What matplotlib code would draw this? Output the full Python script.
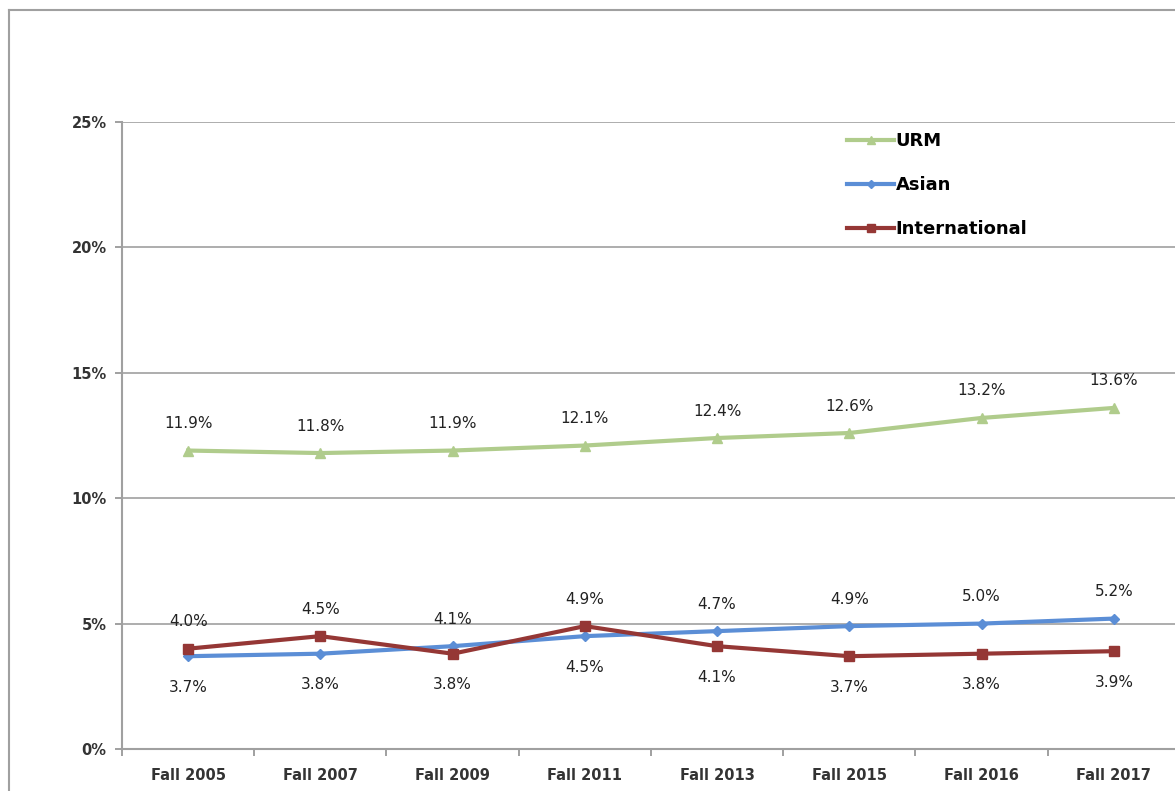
import matplotlib.pyplot as plt
from matplotlib.lines import Line2D

# Data
terms = ['Fall 2005', 'Fall 2007', 'Fall 2009', 'Fall 2011',
         'Fall 2013', 'Fall 2015', 'Fall 2016', 'Fall 2017']
urm = [11.9, 11.8, 11.9, 12.1, 12.4, 12.6, 13.2, 13.6]
asian = [3.7, 3.8, 4.1, 4.5, 4.7, 4.9, 5.0, 5.2]
intl = [4.0, 4.5, 3.8, 4.9, 4.1, 3.7, 3.8, 3.9]

W, H = 1175, 791
fig = plt.figure(figsize=(W / 100, H / 100), dpi=100)
ax = fig.add_axes([122 / W, 1 - 749 / H, (1180 - 122) / W, (749 - 122) / H])

# outer frame (top and left edges visible)
fig.add_artist(Line2D([9 / W, 1.0], [1 - 10 / H] * 2, color='#a0a0a0', lw=1.5))
fig.add_artist(Line2D([9 / W] * 2, [0, 1 - 10 / H], color='#a0a0a0', lw=1.5))

x = list(range(len(terms)))
green, blue, red = '#b0cc8c', '#5b8ed6', '#953735'

ax.plot(x, urm, color=green, lw=3, marker='^', ms=7, label='URM', zorder=3)
ax.plot(x, asian, color=blue, lw=3, marker='D', ms=5, label='Asian', zorder=3)
ax.plot(x, intl, color=red, lw=3, marker='s', ms=7, label='International', zorder=4)

lab_font = dict(fontsize=11, color='#222222', ha='center', family='DejaVu Sans')
for i in x:
    ax.annotate(f'{urm[i]:.1f}%', (i, urm[i]), xytext=(0, 14),
                textcoords='offset points', va='bottom', **lab_font)
    hi, lo = (asian[i], intl[i]) if asian[i] >= intl[i] else (intl[i], asian[i])
    ax.annotate(f'{hi:.1f}%', (i, hi), xytext=(0, 14),
                textcoords='offset points', va='bottom', **lab_font)
    ax.annotate(f'{lo:.1f}%', (i, lo), xytext=(0, -17),
                textcoords='offset points', va='top', **lab_font)

ax.set_xlim(-0.5, len(terms) - 0.5)
ax.set_ylim(0, 25)
ax.set_yticks([0, 5, 10, 15, 20, 25])
ax.set_yticklabels([f'{v}%' for v in [0, 5, 10, 15, 20, 25]],
                   fontsize=10.5, fontweight='bold', color='#333333')
ax.set_xticks(x)
ax.set_xticklabels(terms, fontsize=10.5, fontweight='bold', color='#333333')
ax.set_xticks([i - 0.5 for i in range(len(terms) + 1)], minor=True)
ax.tick_params(axis='x', which='major', length=0, pad=14)
ax.tick_params(axis='x', which='minor', length=5, color='#909090', width=1.2)
ax.tick_params(axis='y', length=5, color='#909090', width=1.2, pad=6)

ax.grid(axis='y', color='#a0a0a0', lw=1.2)
ax.set_axisbelow(True)
for s in ['top', 'right']:
    ax.spines[s].set_visible(False)
for s in ['left', 'bottom']:
    ax.spines[s].set_color('#a0a0a0')
    ax.spines[s].set_linewidth(1.5)

ax.legend(loc='upper left', bbox_to_anchor=(0.67, 1.01), frameon=False,
          prop=dict(size=13, weight='bold'), handlelength=2.6,
          handletextpad=0.1, labelspacing=1.45, markerscale=0.8)

fig.savefig('out.png', dpi=100)
